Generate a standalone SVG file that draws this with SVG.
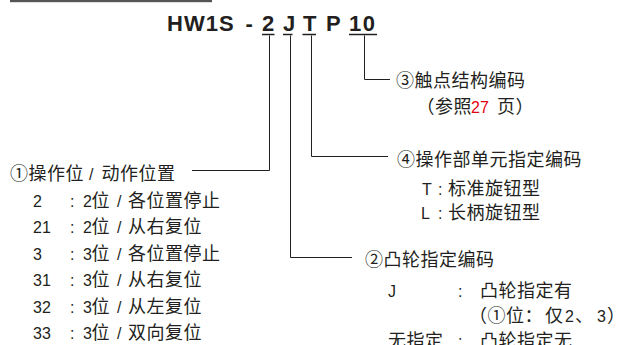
<svg xmlns="http://www.w3.org/2000/svg" width="629" height="345" viewBox="0 0 629 345">
<style>
text { fill: #231f20; }
.c { font-family: "Noto Sans CJK SC", "Noto Sans CJK JP", sans-serif; font-size: 18px; letter-spacing: 0.5px; }
.l { font-family: "Liberation Sans", Arial, sans-serif; font-size: 16px; letter-spacing: 0; }
.t { font-family: "Liberation Sans", Arial, sans-serif; font-size: 22px; font-weight: bold; }
.red { fill: #e60012; }
.conn { fill: none; stroke: #231f20; stroke-width: 1; }
.ul { stroke: #231f20; stroke-width: 1.5; }
</style>
<rect x="10" y="0" width="202" height="2.2" fill="#555555"/>
<g id="title">
  <text class="t" x="167" y="31" letter-spacing="1">HW1S</text>
  <text class="t" x="245.5" y="31">-</text>
  <text class="t" x="262" y="31">2</text>
  <text class="t" x="283" y="31">J</text>
  <text class="t" x="303" y="31">T</text>
  <text class="t" x="326" y="31">P</text>
  <text class="t" x="349" y="31" letter-spacing="1.5">10</text>
  <line class="ul" x1="262" y1="34.5" x2="274.5" y2="34.5"/>
  <line class="ul" x1="283" y1="34.5" x2="292.5" y2="34.5"/>
  <line class="ul" x1="302.5" y1="34.5" x2="316" y2="34.5"/>
  <line class="ul" x1="349" y1="34.5" x2="377" y2="34.5"/>
</g>
<g id="connectors">
  <path class="conn" d="M269.5 35.5 V170.5 H192"/>
  <path class="conn" d="M290.5 35.5 V257.5 H352"/>
  <path class="conn" d="M311.5 35.5 V156.5 H388"/>
  <path class="conn" d="M364.5 35.5 V79.5 H390"/>
</g>
<g id="part1">
  <text class="c" y="180"><tspan x="10">①操作位</tspan><tspan class="l" x="89">/</tspan><tspan x="101.5">动作位置</tspan></text>
  <g class="rows">
    <text class="l" x="33" y="206.5">2</text>
    <text class="l" x="33" y="233">21</text>
    <text class="l" x="33" y="259.7">3</text>
    <text class="l" x="33" y="286.3">31</text>
    <text class="l" x="33" y="313">32</text>
    <text class="l" x="33" y="338.7">33</text>
  </g>
  <text class="c" y="206.5"><tspan class="l" x="70">:</tspan><tspan class="l" x="83">2</tspan><tspan x="91.5">位</tspan><tspan class="l" x="117">/</tspan><tspan x="128">各位置停止</tspan></text>
  <text class="c" y="233"><tspan class="l" x="70">:</tspan><tspan class="l" x="83">2</tspan><tspan x="91.5">位</tspan><tspan class="l" x="117">/</tspan><tspan x="128">从右复位</tspan></text>
  <text class="c" y="259.7"><tspan class="l" x="70">:</tspan><tspan class="l" x="83">3</tspan><tspan x="91.5">位</tspan><tspan class="l" x="117">/</tspan><tspan x="128">各位置停止</tspan></text>
  <text class="c" y="286.3"><tspan class="l" x="70">:</tspan><tspan class="l" x="83">3</tspan><tspan x="91.5">位</tspan><tspan class="l" x="117">/</tspan><tspan x="128">从右复位</tspan></text>
  <text class="c" y="313"><tspan class="l" x="70">:</tspan><tspan class="l" x="83">3</tspan><tspan x="91.5">位</tspan><tspan class="l" x="117">/</tspan><tspan x="128">从左复位</tspan></text>
  <text class="c" y="338.7"><tspan class="l" x="70">:</tspan><tspan class="l" x="83">3</tspan><tspan x="91.5">位</tspan><tspan class="l" x="117">/</tspan><tspan x="128">双向复位</tspan></text>
</g>
<g id="part3">
  <text class="c" x="396" y="87">③触点结构编码</text>
  <text class="c" y="113"><tspan x="416.5">（参照</tspan><tspan class="l red" x="471">27</tspan><tspan x="497">页）</tspan></text>
</g>
<g id="part4">
  <text class="c" x="397" y="166">④操作部单元指定编码</text>
  <text class="c" y="194.8"><tspan class="l" x="422">T</tspan><tspan class="l" x="438">:</tspan><tspan x="448">标准旋钮型</tspan></text>
  <text class="c" y="219.4"><tspan class="l" x="421">L</tspan><tspan class="l" x="438">:</tspan><tspan x="448">长柄旋钮型</tspan></text>
</g>
<g id="part2">
  <text class="c" x="365" y="266">②凸轮指定编码</text>
  <text class="c" y="296.8"><tspan class="l" x="388">J</tspan><tspan class="l" x="458">:</tspan><tspan x="480">凸轮指定有</tspan></text>
  <text class="c" y="321.8"><tspan x="469">（</tspan><tspan x="487.5">①位：</tspan><tspan x="545">仅</tspan><tspan class="l" x="565">2</tspan><tspan x="575">、</tspan><tspan class="l" x="597">3</tspan><tspan x="607">）</tspan></text>
  <text class="c" y="346.5"><tspan x="388">无指定</tspan><tspan class="l" x="458">:</tspan><tspan x="480">凸轮指定无</tspan></text>
</g>
</svg>
